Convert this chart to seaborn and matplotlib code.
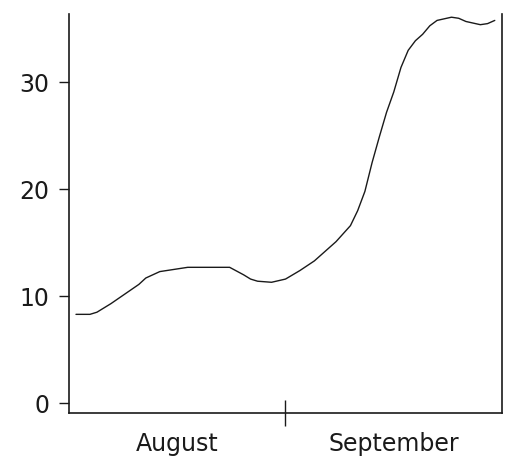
import matplotlib
matplotlib.use('Agg')
import matplotlib.pyplot as plt
import seaborn as sns
import pandas as pd

# values
dates = ['2023-08-02', '2023-08-04', '2023-08-05', '2023-08-07', '2023-08-09',
         '2023-08-11', '2023-08-12', '2023-08-14', '2023-08-16', '2023-08-18',
         '2023-08-24', '2023-08-26', '2023-08-27', '2023-08-28', '2023-08-30',
         '2023-09-01', '2023-09-03', '2023-09-05', '2023-09-06', '2023-09-08',
         '2023-09-10', '2023-09-11', '2023-09-12', '2023-09-13', '2023-09-14',
         '2023-09-15', '2023-09-16', '2023-09-17', '2023-09-18', '2023-09-19',
         '2023-09-20', '2023-09-21', '2023-09-22', '2023-09-24', '2023-09-25',
         '2023-09-26', '2023-09-28', '2023-09-29', '2023-09-30']
values = [8.3, 8.3, 8.5, 9.3, 10.2,
          11.1, 11.7, 12.3, 12.5, 12.7,
          12.7, 12.0, 11.6, 11.4, 11.3,
          11.6, 12.4, 13.3, 13.9, 15.1,
          16.6, 18.0, 19.8, 22.5, 24.9,
          27.2, 29.1, 31.4, 33.0, 33.9,
          34.5, 35.3, 35.8, 36.1, 36.0,
          35.7, 35.4, 35.5, 35.8]
y_ticks = [0, 10, 20, 30]
month_labels = ['August', 'September']

df = pd.DataFrame({'date': pd.to_datetime(dates), 'value': values})
# each month gets the same width on the x axis (0 = Aug 1, 1 = Sep 1, 2 = Oct 1)
df['pos'] = (df['date'].dt.month - 8) + (df['date'].dt.day - 1) / df['date'].dt.days_in_month

sns.set_style('ticks')
plt.rcParams['font.family'] = ['DejaVu Sans']

fig = plt.figure(figsize=(5.06, 4.59), dpi=100)
ax = fig.add_axes([69 / 506, (459 - 413) / 459, (502 - 69) / 506, (413 - 14) / 459])

sns.lineplot(data=df, x='pos', y='value', ax=ax, color='#1a1a1a', linewidth=1.0)

ax.set_xlim(0, 2)
ax.set_ylim(-0.93, 36.4)
ax.set_yticks(y_ticks)
ax.set_yticklabels([str(v) for v in y_ticks])

# month divider tick, labels centred in each month
ax.set_xticks([1])
ax.set_xticklabels([''])
ax.set_xticks([0.5, 1.5], minor=True)
ax.set_xticklabels(month_labels, minor=True)

ax.tick_params(axis='x', which='major', direction='inout', length=19, width=1.0, color='#1a1a1a')
ax.tick_params(axis='x', which='minor', length=0, pad=14, labelsize=17, labelcolor='#1a1a1a')
ax.tick_params(axis='y', direction='out', length=7, width=1.0, pad=7, labelsize=17,
               labelcolor='#1a1a1a', color='#1a1a1a')

ax.set_xlabel('')
ax.set_ylabel('')
ax.spines['top'].set_visible(False)
for side in ['left', 'right', 'bottom']:
    ax.spines[side].set_linewidth(1.2)
    ax.spines[side].set_color('#1a1a1a')

fig.savefig('out.png', dpi=100)
